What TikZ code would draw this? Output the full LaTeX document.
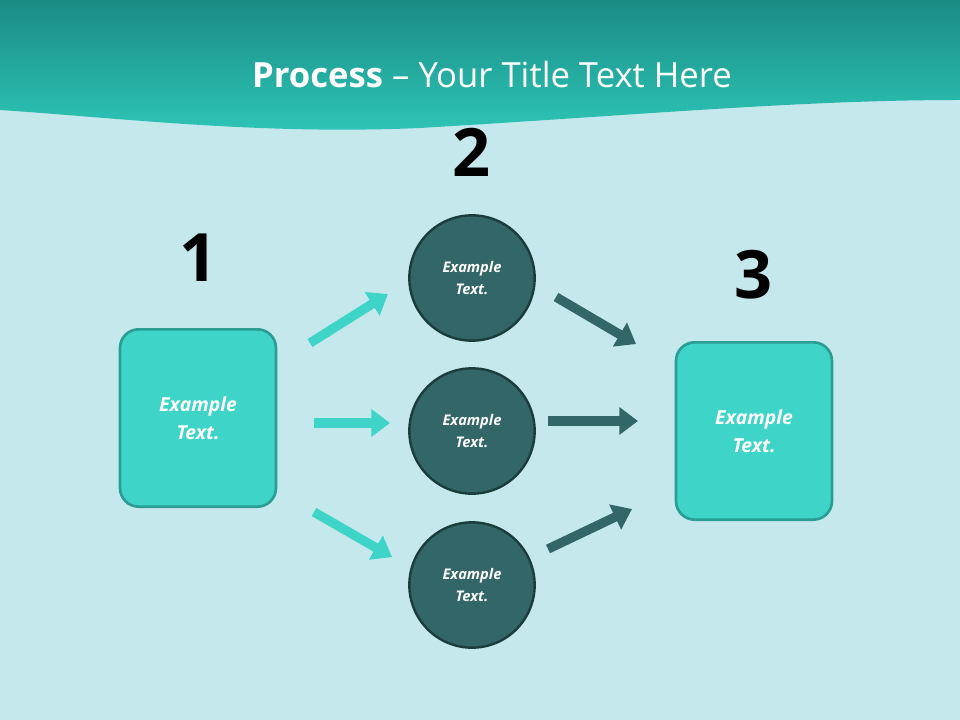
\documentclass[tikz,border=0pt]{standalone}
\usepackage{fontspec}
\setmainfont{Open Sans}
\usetikzlibrary{arrows.meta}
\definecolor{bg}{HTML}{C4E8EC}
\definecolor{hdtop}{HTML}{1A8C84}
\definecolor{hdbot}{HTML}{2EC6B8}
\definecolor{boxf}{HTML}{3FD4C8}
\definecolor{boxd}{HTML}{2A9E94}
\definecolor{circf}{HTML}{336666}
\definecolor{circd}{HTML}{1C3C3C}
\tikzset{
  stepbox/.style={draw=boxd,line width=2pt,fill=boxf,rounded corners=14pt,minimum width=117pt,minimum height=133pt,font=\bfseries\itshape\fontsize{14.5}{21}\selectfont,text=white,align=center},
  circ/.style={circle,draw=circd,line width=1.8pt,fill=circf,minimum size=94pt,font=\bfseries\itshape\fontsize{11}{17}\selectfont,text=white,align=center},
  num/.style={font=\bfseries\fontsize{50}{50}\selectfont,text=black},
  larr/.style={line width=7pt,color=boxf,-{Triangle[length=14pt,width=20pt]}},
  darr/.style={line width=7pt,color=circf,-{Triangle[length=14pt,width=20pt]}}
}
\begin{document}
\begin{tikzpicture}[x=0.75pt,y=-0.75pt]
\useasboundingbox (0,0) rectangle (960,720);
\fill[bg] (0,0) rectangle (960,720);
\shade[top color=hdtop,bottom color=hdbot] (0,0) -- (960,0) -- (960,100) .. controls (800,100) and (640,115) .. (420,128) .. controls (260,135) and (120,118) .. (0,110) -- cycle;
\node[text=white,font=\fontsize{26}{30}\selectfont] (title) at (492,75) {\textbf{Process} – Your Title Text Here};
\node[stepbox] (b1) at (198,418) {Example\\Text.};
\node[stepbox] (b3) at (754,431) {Example\\Text.};
\node[circ] (c1) at (472,278) {Example\\Text.};
\node[circ] (c2) at (472,431) {Example\\Text.};
\node[circ] (c3) at (472,585) {Example\\Text.};
\node[num] (n1) at (199,258) {1};
\node[num] (n2) at (472,152) {2};
\node[num] (n3) at (754,275) {3};
\coordinate (a1s) at (310,343); \coordinate (a1e) at (388,294);
\coordinate (a2s) at (314,423); \coordinate (a2e) at (390,423);
\coordinate (a3s) at (314,512); \coordinate (a3e) at (392,557);
\coordinate (d1s) at (556,297); \coordinate (d1e) at (636,344);
\coordinate (d2s) at (548,421); \coordinate (d2e) at (638,421);
\coordinate (d3s) at (548,549); \coordinate (d3e) at (632,509);
\draw[larr] (a1s) -- (a1e);
\draw[larr] (a2s) -- (a2e);
\draw[larr] (a3s) -- (a3e);
\draw[darr] (d1s) -- (d1e);
\draw[darr] (d2s) -- (d2e);
\draw[darr] (d3s) -- (d3e);
\end{tikzpicture}
\end{document}
